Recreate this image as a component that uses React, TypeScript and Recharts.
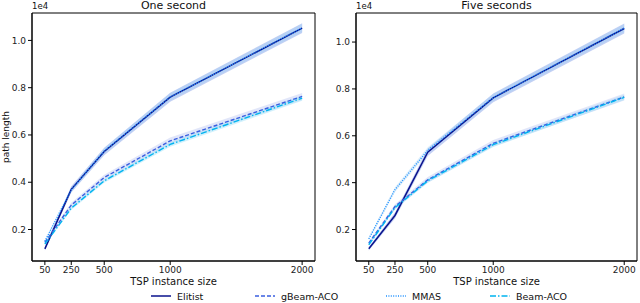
import React from "react";
import { ComposedChart, Line, Area, XAxis, YAxis, ReferenceArea } from "recharts";

// TSP instance sizes on the x axis
const sizes = [50, 250, 500, 1000, 2000];
const xTicks = [50, 250, 500, 1000, 2000];
const yTicks = [2000, 4000, 6000, 8000, 10000];

// One second
const elitist1 = [1180, 3700, 5300, 7600, 10520];
const gbeam1 = [1450, 3030, 4200, 5750, 7630];
const mmas1 = [1500, 3680, 5320, 7610, 10530];
const beam1 = [1380, 2900, 4060, 5600, 7560];

// Five seconds
const elitist5 = [1180, 2600, 5300, 7620, 10580];
const gbeam5 = [1420, 2980, 4120, 5680, 7660];
const mmas5 = [1600, 3700, 5380, 7630, 10590];
const beam5 = [1350, 2930, 4080, 5620, 7640];

// spread of the shaded bands (half width)
const elitistSpread = [70, 130, 160, 190, 210];
const gbeamSpread = [60, 100, 120, 140, 150];
const mmasSpread = [60, 100, 130, 150, 170];
const beamSpread = [40, 70, 80, 100, 110];

const series = [
  { key: "elitist", name: "Elitist", color: "#0a128c", band: "#7d9ae6", bandOpacity: 0.45, dash: undefined, width: 1.5 },
  { key: "gbeam", name: "gBeam-ACO", color: "#3a5fe0", band: "#a9b7ee", bandOpacity: 0.35, dash: "4 2", width: 1.4 },
  { key: "mmas", name: "MMAS", color: "#1e90ff", band: "#9fd0f7", bandOpacity: 0.35, dash: "1 1.4", width: 1.4 },
  { key: "beam", name: "Beam-ACO", color: "#00b4f0", band: "#8fdcf8", bandOpacity: 0.4, dash: "6 2 1.5 2", width: 1.4 },
];

function buildRows(e: number[], g: number[], m: number[], b: number[]) {
  return sizes.map((n, i) => ({
    n,
    elitist: e[i],
    gbeam: g[i],
    mmas: m[i],
    beam: b[i],
    elitistBand: [e[i] - elitistSpread[i], e[i] + elitistSpread[i]],
    gbeamBand: [g[i] - gbeamSpread[i], g[i] + gbeamSpread[i]],
    mmasBand: [m[i] - mmasSpread[i], m[i] + mmasSpread[i]],
    beamBand: [b[i] - beamSpread[i], b[i] + beamSpread[i]],
  }));
}

const oneSecond = buildRows(elitist1, gbeam1, mmas1, beam1);
const fiveSeconds = buildRows(elitist5, gbeam5, mmas5, beam5);

const xDomain = [-47.5, 2097.5];
const FONT = "DejaVu Sans, sans-serif";
const tickStyle = { fontSize: 9, fill: "#222", fontFamily: FONT };

function Panel({ data, yDomain, width }: { data: any[]; yDomain: number[]; width: number }) {
  return (
    <ComposedChart width={width} height={303} data={data} margin={{ top: 13, right: 3, bottom: 20, left: 0 }}>
      <XAxis
        dataKey="n"
        type="number"
        domain={xDomain}
        ticks={xTicks}
        allowDataOverflow
        height={22}
        tickSize={4}
        stroke="#000"
        tick={tickStyle}
        interval={0}
      />
      <YAxis
        type="number"
        domain={yDomain}
        ticks={yTicks}
        allowDataOverflow
        width={32}
        tickSize={4}
        stroke="#000"
        tick={tickStyle}
        tickFormatter={(v: number) => (v / 1e4).toFixed(1)}
      />
      {series.map((s) => (
        <Area
          key={s.key + "Band"}
          type="linear"
          dataKey={s.key + "Band"}
          stroke="none"
          fill={s.band}
          fillOpacity={s.bandOpacity}
          isAnimationActive={false}
          activeDot={false}
        />
      ))}
      {series.map((s) => (
        <Line
          key={s.key}
          type="linear"
          dataKey={s.key}
          stroke={s.color}
          strokeWidth={s.width}
          strokeDasharray={s.dash}
          dot={false}
          activeDot={false}
          isAnimationActive={false}
        />
      ))}
      {/* axes frame */}
      <ReferenceArea
        x1={xDomain[0]}
        x2={xDomain[1]}
        y1={yDomain[0]}
        y2={yDomain[1]}
        fill="none"
        fillOpacity={0}
        stroke="#000"
        strokeWidth={1}
        ifOverflow="visible"
      />
    </ComposedChart>
  );
}

const text = (style: React.CSSProperties): React.CSSProperties => ({
  position: "absolute",
  fontFamily: FONT,
  color: "#111",
  whiteSpace: "nowrap",
  lineHeight: 1,
  ...style,
});

export default function App() {
  return (
    <div style={{ position: "absolute", left: 0, top: 0, width: 640, height: 303, background: "#fff", overflow: "hidden" }}>
      <div style={{ position: "absolute", left: 0, top: 0 }}>
        <Panel data={oneSecond} yDomain={[668, 11160]} width={318} />
      </div>
      <div style={{ position: "absolute", left: 324, top: 0 }}>
        <Panel data={fiveSeconds} yDomain={[657, 11240]} width={316} />
      </div>

      <div style={text({ left: 32, width: 283, top: 0, textAlign: "center", fontSize: 11 })}>One second</div>
      <div style={text({ left: 356, width: 281, top: 0, textAlign: "center", fontSize: 11 })}>Five seconds</div>
      <div style={text({ left: 32, top: 2, fontSize: 8.5 })}>1e4</div>
      <div style={text({ left: 356, top: 2, fontSize: 8.5 })}>1e4</div>
      <div style={text({ left: 32, width: 283, top: 277, textAlign: "center", fontSize: 10 })}>TSP instance size</div>
      <div style={text({ left: 356, width: 281, top: 277, textAlign: "center", fontSize: 10 })}>TSP instance size</div>
      <svg style={{ position: "absolute", left: 0, top: 0 }} width={12} height={303}>
        <text
          x={0}
          y={0}
          transform="translate(5.5, 137) rotate(-90)"
          textAnchor="middle"
          dominantBaseline="central"
          fontFamily={FONT}
          fontSize={9}
          fill="#111"
        >
          path length
        </text>
      </svg>

      {series.map((s, i) => {
        const lefts = [151, 255, 386, 490];
        return (
          <div key={s.key} style={{ position: "absolute", left: lefts[i], top: 290, display: "flex", alignItems: "center", height: 12 }}>
            <svg width={20} height={12}>
              <line x1={0} y1={6} x2={20} y2={6} stroke={s.color} strokeWidth={s.width} strokeDasharray={s.dash} />
            </svg>
            <span style={{ fontFamily: FONT, fontSize: 9.5, color: "#111", marginLeft: 6 }}>{s.name}</span>
          </div>
        );
      })}
    </div>
  );
}
